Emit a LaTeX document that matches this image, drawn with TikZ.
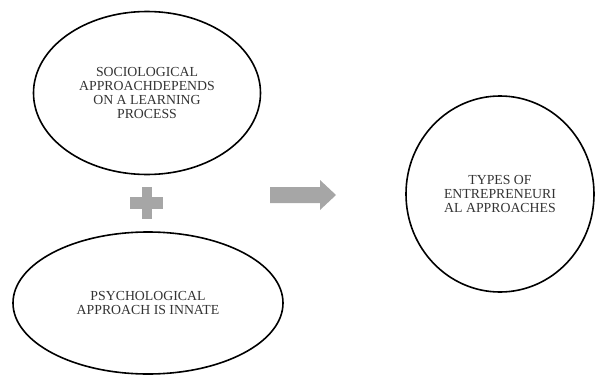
\documentclass[tikz,border=0pt]{standalone}
\usepackage{fontspec}
\setmainfont{Liberation Serif}
\usepackage{tikz}
\usetikzlibrary{shapes.geometric, positioning}
\definecolor{signgray}{HTML}{A6A6A6}

\begin{document}
\begin{tikzpicture}[
        x=1pt, y=-1pt,
        bubble/.style={ellipse, draw, line width=1.6pt, align=center, inner sep=0pt, text=black!80, font=\fontsize{13.8}{14.2}\selectfont},
        sign/.style={fill=signgray, draw=none}
    ]
    \useasboundingbox (0,0) rectangle (595,375);

    % Approaches
    \node (socio) [bubble, minimum width=227pt, minimum height=163pt] at (147,93) {SOCIOLOGICAL\\ APPROACHDEPENDS\\ ON A LEARNING\\ PROCESS};
    \node (psycho) [bubble, minimum width=270pt, minimum height=142pt] at (148,303) {PSYCHOLOGICAL\\ APPROACH IS INNATE};

    % Result
    \node (types) [bubble, minimum width=188pt, minimum height=196pt] at (500,194) {TYPES OF\\ ENTREPRENEURI\\ AL APPROACHES};

    % Plus und Pfeil
    \fill [sign] (130,197) rectangle (163,209);
    \fill [sign] (142,187) rectangle (152,219);
    \fill [sign] (270,187) -- (320,187) -- (320,180) -- (336,195) -- (320,210) -- (320,203) -- (270,203) -- cycle;

\end{tikzpicture}
\end{document}
